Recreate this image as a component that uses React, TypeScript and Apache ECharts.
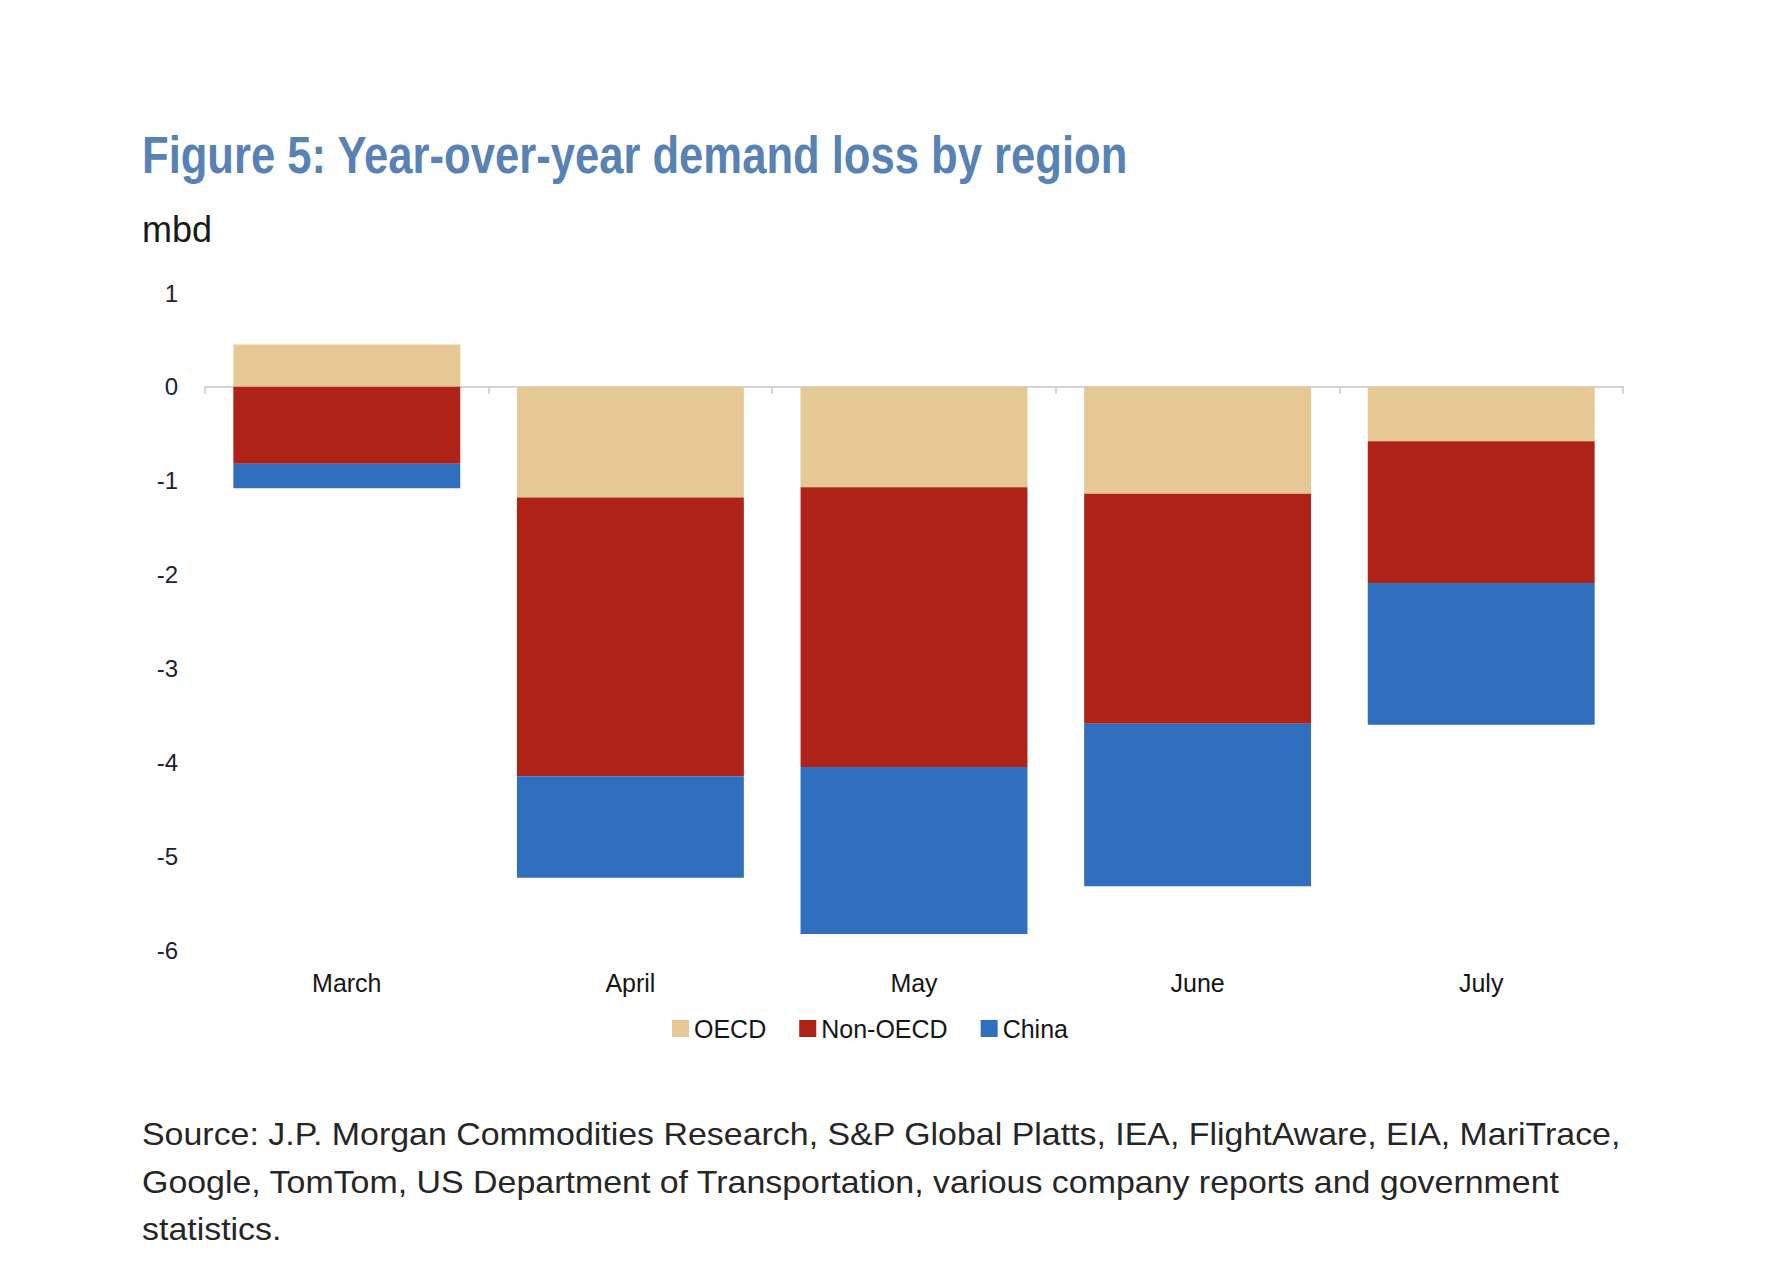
import React, { useEffect, useRef } from "react";
import * as echarts from "echarts";

const categories = ["March", "April", "May", "June", "July"];
const oecd = [0.45, -1.18, -1.07, -1.14, -0.58];
const nonOecd = [-0.82, -2.97, -2.98, -2.45, -1.51];
const china = [-0.26, -1.08, -1.78, -1.73, -1.51];
const seriesNames = ["OECD", "Non-OECD", "China"];
const seriesColors = ["#e5c893", "#ae2218", "#2f6fbd"];

const titleText = "Figure 5: Year-over-year demand loss by region";
const unitText = "mbd";
const sourceLines = [
  "Source: J.P. Morgan Commodities Research, S&P Global Platts, IEA, FlightAware, EIA, MariTrace,",
  "Google, TomTom, US Department of Transportation, various company reports and government",
  "statistics.",
];

const FONT = "'Liberation Sans', Arial, sans-serif";

export default function App() {
  const ref = useRef<HTMLDivElement>(null);
  useEffect(() => {
    if (!ref.current) return;
    const chart = echarts.init(ref.current, null, { renderer: "svg" });
    const data = [oecd, nonOecd, china];
    chart.setOption({
      animation: false,
      backgroundColor: "#ffffff",
      textStyle: { fontFamily: FONT },
      grid: { left: 205, right: 153, top: 293, bottom: 336, containLabel: false },
      legend: {
        data: seriesNames,
        left: 672,
        top: 1016,
        padding: 0,
        itemWidth: 17,
        itemHeight: 17,
        itemGap: 33,
        icon: "rect",
        textStyle: { fontFamily: FONT, fontSize: 25, color: "#151515" },
      },
      xAxis: [
        {
          type: "category",
          data: categories,
          axisLine: { show: true, onZero: true, lineStyle: { color: "#d4d4d4", width: 2 } },
          axisTick: { show: true, length: 7, lineStyle: { color: "#d4d4d4", width: 2 } },
          axisLabel: { show: false },
          splitLine: { show: false },
        },
        {
          type: "category",
          data: categories,
          position: "bottom",
          axisLine: { show: false, onZero: false },
          axisTick: { show: false },
          axisLabel: { show: true, margin: 20, fontFamily: FONT, fontSize: 25, color: "#151515" },
          splitLine: { show: false },
        },
      ],
      yAxis: {
        type: "value",
        min: -6,
        max: 1,
        interval: 1,
        axisLine: { show: false },
        axisTick: { show: false },
        splitLine: { show: false },
        axisLabel: { margin: 27, fontFamily: FONT, fontSize: 24, color: "#1a2330" },
      },
      series: seriesNames.map((name, i) => ({
        name,
        type: "bar",
        stack: "total",
        xAxisIndex: 0,
        barCategoryGap: "20%",
        data: data[i],
        itemStyle: { color: seriesColors[i] },
      })),
      graphic: [
        {
          type: "text",
          x: 142,
          y: 155,
          scaleX: 0.855,
          style: {
            text: titleText,
            fontFamily: FONT,
            fontSize: 51,
            fontWeight: "bold",
            fill: "#5882b4",
            verticalAlign: "middle",
            align: "left",
          },
        },
        {
          type: "text",
          x: 142,
          y: 229,
          scaleX: 1.0,
          style: {
            text: unitText,
            fontFamily: FONT,
            fontSize: 36,
            fill: "#1a1a1a",
            verticalAlign: "middle",
            align: "left",
          },
        },
        ...sourceLines.map((line, i) => ({
          type: "text",
          x: 142,
          y: 1134 + i * 47.5,
          scaleX: 1.06,
          style: {
            text: line,
            fontFamily: FONT,
            fontSize: 32,
            fill: "#262626",
            verticalAlign: "middle",
            align: "left",
          },
        })),
      ],
    });
    return () => chart.dispose();
  }, []);
  return (
    <div
      ref={ref}
      style={{ position: "absolute", left: 0, top: 0, width: 1776, height: 1286 }}
    />
  );
}
